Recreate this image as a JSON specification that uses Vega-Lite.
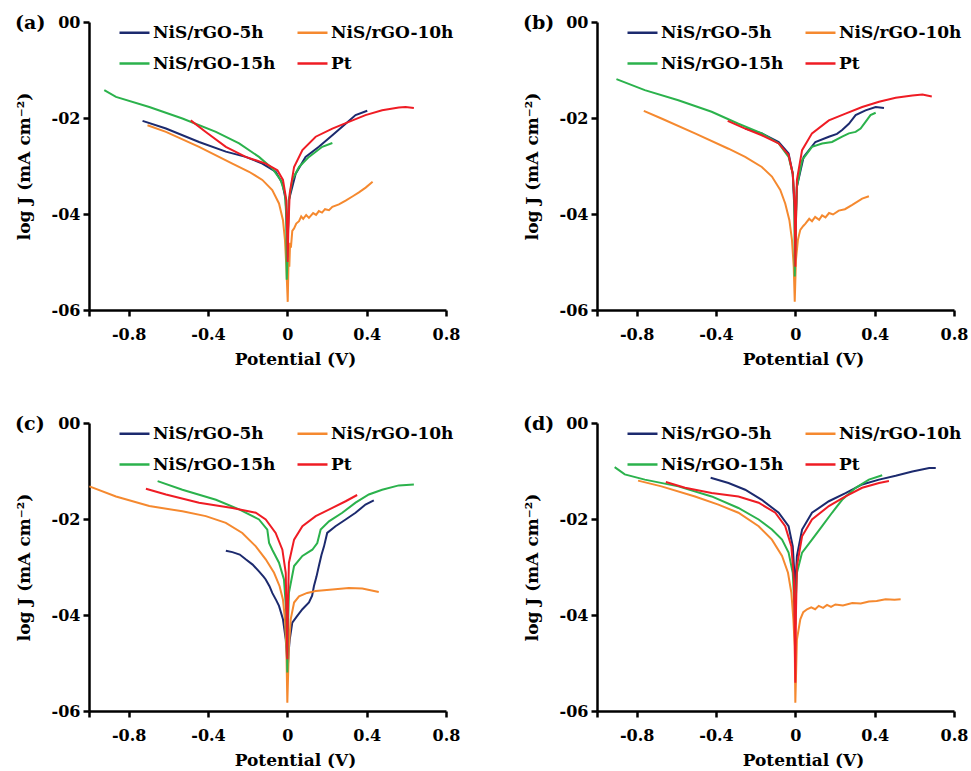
{
"$schema":"https://vega.github.io/schema/vega-lite/v6.json",
"background":"white",
"padding":{"left":15,"top":14,"right":0,"bottom":0},
"config":{
 "view":{"stroke":null},
 "font":"DejaVu Serif",
 "axis":{"domainColor":"black","domainWidth":2.5,"tickColor":"black","tickWidth":2.5,"tickSize":6,"grid":false,"labelFont":"DejaVu Serif","labelFontWeight":"bold","labelFontSize":16,"labelColor":"black","titleFont":"DejaVu Serif","titleFontWeight":"bold","titleFontSize":17,"titleColor":"black","labelFlush":false,"labelOverlap":false},
 "legend":{"title":null,"orient":"none","legendX":29,"legendY":-6,"columns":2,"direction":"horizontal","symbolType":"stroke","symbolSize":900,"symbolStrokeWidth":2.5,"labelFont":"DejaVu Serif","labelFontWeight":"bold","labelFontSize":17,"labelColor":"black","labelOffset":2,"rowPadding":6,"columnPadding":16,"padding":0,"labelLimit":200},
 "title":{"font":"DejaVu Serif","fontWeight":"bold","fontSize":19,"anchor":"start","frame":"bounds","color":"black","offset":-19,"baseline":"middle"}
},
"data":{"values":[
{"p":"a","s":"NiS/rGO-5h","x":-0.73,"y":-2.06},{"p":"a","s":"NiS/rGO-5h","x":-0.612,"y":-2.22},{"p":"a","s":"NiS/rGO-5h","x":-0.445,"y":-2.5},{"p":"a","s":"NiS/rGO-5h","x":-0.31,"y":-2.7},{"p":"a","s":"NiS/rGO-5h","x":-0.21,"y":-2.81},{"p":"a","s":"NiS/rGO-5h","x":-0.126,"y":-2.95},{"p":"a","s":"NiS/rGO-5h","x":-0.059,"y":-3.12},{"p":"a","s":"NiS/rGO-5h","x":-0.025,"y":-3.36},{"p":"a","s":"NiS/rGO-5h","x":-0.008,"y":-3.71},{"p":"a","s":"NiS/rGO-5h","x":-0.002,"y":-4.4},{"p":"a","s":"NiS/rGO-5h","x":0.0,"y":-4.9},{"p":"a","s":"NiS/rGO-5h","x":0.003,"y":-4.4},{"p":"a","s":"NiS/rGO-5h","x":0.008,"y":-3.71},{"p":"a","s":"NiS/rGO-5h","x":0.042,"y":-3.16},{"p":"a","s":"NiS/rGO-5h","x":0.092,"y":-2.81},{"p":"a","s":"NiS/rGO-5h","x":0.159,"y":-2.6},{"p":"a","s":"NiS/rGO-5h","x":0.227,"y":-2.36},{"p":"a","s":"NiS/rGO-5h","x":0.294,"y":-2.12},{"p":"a","s":"NiS/rGO-5h","x":0.344,"y":-1.94},{"p":"a","s":"NiS/rGO-5h","x":0.403,"y":-1.85},
{"p":"a","s":"NiS/rGO-10h","x":-0.705,"y":-2.15},{"p":"a","s":"NiS/rGO-10h","x":-0.612,"y":-2.29},{"p":"a","s":"NiS/rGO-10h","x":-0.445,"y":-2.6},{"p":"a","s":"NiS/rGO-10h","x":-0.277,"y":-2.95},{"p":"a","s":"NiS/rGO-10h","x":-0.193,"y":-3.12},{"p":"a","s":"NiS/rGO-10h","x":-0.126,"y":-3.29},{"p":"a","s":"NiS/rGO-10h","x":-0.076,"y":-3.5},{"p":"a","s":"NiS/rGO-10h","x":-0.042,"y":-3.78},{"p":"a","s":"NiS/rGO-10h","x":-0.022,"y":-4.13},{"p":"a","s":"NiS/rGO-10h","x":-0.012,"y":-4.54},{"p":"a","s":"NiS/rGO-10h","x":-0.005,"y":-5.1},{"p":"a","s":"NiS/rGO-10h","x":0.002,"y":-5.83},{"p":"a","s":"NiS/rGO-10h","x":0.006,"y":-5.0},{"p":"a","s":"NiS/rGO-10h","x":0.01,"y":-5.1},{"p":"a","s":"NiS/rGO-10h","x":0.014,"y":-4.6},{"p":"a","s":"NiS/rGO-10h","x":0.018,"y":-4.7},{"p":"a","s":"NiS/rGO-10h","x":0.025,"y":-4.35},{"p":"a","s":"NiS/rGO-10h","x":0.034,"y":-4.3},{"p":"a","s":"NiS/rGO-10h","x":0.045,"y":-4.2},{"p":"a","s":"NiS/rGO-10h","x":0.059,"y":-4.15},{"p":"a","s":"NiS/rGO-10h","x":0.07,"y":-4.05},{"p":"a","s":"NiS/rGO-10h","x":0.08,"y":-4.1},{"p":"a","s":"NiS/rGO-10h","x":0.095,"y":-4.02},{"p":"a","s":"NiS/rGO-10h","x":0.109,"y":-4.08},{"p":"a","s":"NiS/rGO-10h","x":0.13,"y":-3.98},{"p":"a","s":"NiS/rGO-10h","x":0.145,"y":-4.02},{"p":"a","s":"NiS/rGO-10h","x":0.159,"y":-3.94},{"p":"a","s":"NiS/rGO-10h","x":0.175,"y":-3.97},{"p":"a","s":"NiS/rGO-10h","x":0.19,"y":-3.9},{"p":"a","s":"NiS/rGO-10h","x":0.21,"y":-3.92},{"p":"a","s":"NiS/rGO-10h","x":0.227,"y":-3.85},{"p":"a","s":"NiS/rGO-10h","x":0.26,"y":-3.8},{"p":"a","s":"NiS/rGO-10h","x":0.294,"y":-3.72},{"p":"a","s":"NiS/rGO-10h","x":0.33,"y":-3.63},{"p":"a","s":"NiS/rGO-10h","x":0.361,"y":-3.55},{"p":"a","s":"NiS/rGO-10h","x":0.395,"y":-3.45},{"p":"a","s":"NiS/rGO-10h","x":0.43,"y":-3.33},
{"p":"a","s":"NiS/rGO-15h","x":-0.923,"y":-1.42},{"p":"a","s":"NiS/rGO-15h","x":-0.864,"y":-1.56},{"p":"a","s":"NiS/rGO-15h","x":-0.696,"y":-1.77},{"p":"a","s":"NiS/rGO-15h","x":-0.529,"y":-2.01},{"p":"a","s":"NiS/rGO-15h","x":-0.36,"y":-2.29},{"p":"a","s":"NiS/rGO-15h","x":-0.243,"y":-2.53},{"p":"a","s":"NiS/rGO-15h","x":-0.143,"y":-2.81},{"p":"a","s":"NiS/rGO-15h","x":-0.076,"y":-3.05},{"p":"a","s":"NiS/rGO-15h","x":-0.034,"y":-3.29},{"p":"a","s":"NiS/rGO-15h","x":-0.012,"y":-3.57},{"p":"a","s":"NiS/rGO-15h","x":-0.005,"y":-4.06},{"p":"a","s":"NiS/rGO-15h","x":-0.004,"y":-5.03},{"p":"a","s":"NiS/rGO-15h","x":-0.003,"y":-5.37},{"p":"a","s":"NiS/rGO-15h","x":0.0,"y":-5.03},{"p":"a","s":"NiS/rGO-15h","x":0.004,"y":-4.3},{"p":"a","s":"NiS/rGO-15h","x":0.008,"y":-3.71},{"p":"a","s":"NiS/rGO-15h","x":0.025,"y":-3.29},{"p":"a","s":"NiS/rGO-15h","x":0.059,"y":-3.02},{"p":"a","s":"NiS/rGO-15h","x":0.109,"y":-2.81},{"p":"a","s":"NiS/rGO-15h","x":0.176,"y":-2.6},{"p":"a","s":"NiS/rGO-15h","x":0.227,"y":-2.52},
{"p":"a","s":"Pt","x":-0.487,"y":-2.05},{"p":"a","s":"Pt","x":-0.411,"y":-2.29},{"p":"a","s":"Pt","x":-0.31,"y":-2.6},{"p":"a","s":"Pt","x":-0.21,"y":-2.81},{"p":"a","s":"Pt","x":-0.109,"y":-2.95},{"p":"a","s":"Pt","x":-0.05,"y":-3.09},{"p":"a","s":"Pt","x":-0.022,"y":-3.29},{"p":"a","s":"Pt","x":-0.005,"y":-3.71},{"p":"a","s":"Pt","x":0.0,"y":-4.54},{"p":"a","s":"Pt","x":0.002,"y":-5.0},{"p":"a","s":"Pt","x":0.005,"y":-4.3},{"p":"a","s":"Pt","x":0.012,"y":-3.57},{"p":"a","s":"Pt","x":0.034,"y":-3.02},{"p":"a","s":"Pt","x":0.076,"y":-2.67},{"p":"a","s":"Pt","x":0.143,"y":-2.39},{"p":"a","s":"Pt","x":0.227,"y":-2.22},{"p":"a","s":"Pt","x":0.31,"y":-2.08},{"p":"a","s":"Pt","x":0.394,"y":-1.94},{"p":"a","s":"Pt","x":0.478,"y":-1.84},{"p":"a","s":"Pt","x":0.562,"y":-1.78},{"p":"a","s":"Pt","x":0.596,"y":-1.77},{"p":"a","s":"Pt","x":0.638,"y":-1.79},
{"p":"b","s":"NiS/rGO-5h","x":-0.253,"y":-2.22},{"p":"b","s":"NiS/rGO-5h","x":-0.169,"y":-2.32},{"p":"b","s":"NiS/rGO-5h","x":-0.084,"y":-2.5},{"p":"b","s":"NiS/rGO-5h","x":-0.034,"y":-2.74},{"p":"b","s":"NiS/rGO-5h","x":-0.013,"y":-3.16},{"p":"b","s":"NiS/rGO-5h","x":-0.003,"y":-4.06},{"p":"b","s":"NiS/rGO-5h","x":0.0,"y":-4.8},{"p":"b","s":"NiS/rGO-5h","x":0.003,"y":-4.0},{"p":"b","s":"NiS/rGO-5h","x":0.008,"y":-3.43},{"p":"b","s":"NiS/rGO-5h","x":0.042,"y":-2.81},{"p":"b","s":"NiS/rGO-5h","x":0.101,"y":-2.5},{"p":"b","s":"NiS/rGO-5h","x":0.169,"y":-2.39},{"p":"b","s":"NiS/rGO-5h","x":0.21,"y":-2.33},{"p":"b","s":"NiS/rGO-5h","x":0.236,"y":-2.25},{"p":"b","s":"NiS/rGO-5h","x":0.27,"y":-2.12},{"p":"b","s":"NiS/rGO-5h","x":0.304,"y":-1.94},{"p":"b","s":"NiS/rGO-5h","x":0.354,"y":-1.84},{"p":"b","s":"NiS/rGO-5h","x":0.405,"y":-1.77},{"p":"b","s":"NiS/rGO-5h","x":0.447,"y":-1.79},
{"p":"b","s":"NiS/rGO-10h","x":-0.764,"y":-1.85},{"p":"b","s":"NiS/rGO-10h","x":-0.675,"y":-2.01},{"p":"b","s":"NiS/rGO-10h","x":-0.506,"y":-2.32},{"p":"b","s":"NiS/rGO-10h","x":-0.337,"y":-2.64},{"p":"b","s":"NiS/rGO-10h","x":-0.253,"y":-2.81},{"p":"b","s":"NiS/rGO-10h","x":-0.169,"y":-3.02},{"p":"b","s":"NiS/rGO-10h","x":-0.118,"y":-3.22},{"p":"b","s":"NiS/rGO-10h","x":-0.076,"y":-3.5},{"p":"b","s":"NiS/rGO-10h","x":-0.051,"y":-3.78},{"p":"b","s":"NiS/rGO-10h","x":-0.03,"y":-4.13},{"p":"b","s":"NiS/rGO-10h","x":-0.017,"y":-4.54},{"p":"b","s":"NiS/rGO-10h","x":-0.008,"y":-5.1},{"p":"b","s":"NiS/rGO-10h","x":-0.003,"y":-5.83},{"p":"b","s":"NiS/rGO-10h","x":0.003,"y":-4.96},{"p":"b","s":"NiS/rGO-10h","x":0.008,"y":-4.75},{"p":"b","s":"NiS/rGO-10h","x":0.013,"y":-4.54},{"p":"b","s":"NiS/rGO-10h","x":0.018,"y":-4.45},{"p":"b","s":"NiS/rGO-10h","x":0.025,"y":-4.33},{"p":"b","s":"NiS/rGO-10h","x":0.04,"y":-4.25},{"p":"b","s":"NiS/rGO-10h","x":0.051,"y":-4.2},{"p":"b","s":"NiS/rGO-10h","x":0.07,"y":-4.1},{"p":"b","s":"NiS/rGO-10h","x":0.084,"y":-4.15},{"p":"b","s":"NiS/rGO-10h","x":0.1,"y":-4.06},{"p":"b","s":"NiS/rGO-10h","x":0.12,"y":-4.12},{"p":"b","s":"NiS/rGO-10h","x":0.135,"y":-4.03},{"p":"b","s":"NiS/rGO-10h","x":0.152,"y":-4.07},{"p":"b","s":"NiS/rGO-10h","x":0.17,"y":-3.98},{"p":"b","s":"NiS/rGO-10h","x":0.19,"y":-4.01},{"p":"b","s":"NiS/rGO-10h","x":0.219,"y":-3.93},{"p":"b","s":"NiS/rGO-10h","x":0.25,"y":-3.9},{"p":"b","s":"NiS/rGO-10h","x":0.287,"y":-3.81},{"p":"b","s":"NiS/rGO-10h","x":0.337,"y":-3.68},{"p":"b","s":"NiS/rGO-10h","x":0.371,"y":-3.63},
{"p":"b","s":"NiS/rGO-15h","x":-0.902,"y":-1.19},{"p":"b","s":"NiS/rGO-15h","x":-0.759,"y":-1.42},{"p":"b","s":"NiS/rGO-15h","x":-0.59,"y":-1.63},{"p":"b","s":"NiS/rGO-15h","x":-0.422,"y":-1.87},{"p":"b","s":"NiS/rGO-15h","x":-0.287,"y":-2.12},{"p":"b","s":"NiS/rGO-15h","x":-0.169,"y":-2.32},{"p":"b","s":"NiS/rGO-15h","x":-0.084,"y":-2.53},{"p":"b","s":"NiS/rGO-15h","x":-0.034,"y":-2.81},{"p":"b","s":"NiS/rGO-15h","x":-0.013,"y":-3.16},{"p":"b","s":"NiS/rGO-15h","x":-0.005,"y":-3.71},{"p":"b","s":"NiS/rGO-15h","x":-0.003,"y":-5.3},{"p":"b","s":"NiS/rGO-15h","x":0.002,"y":-4.3},{"p":"b","s":"NiS/rGO-15h","x":0.008,"y":-3.43},{"p":"b","s":"NiS/rGO-15h","x":0.034,"y":-2.88},{"p":"b","s":"NiS/rGO-15h","x":0.084,"y":-2.6},{"p":"b","s":"NiS/rGO-15h","x":0.135,"y":-2.53},{"p":"b","s":"NiS/rGO-15h","x":0.185,"y":-2.5},{"p":"b","s":"NiS/rGO-15h","x":0.236,"y":-2.39},{"p":"b","s":"NiS/rGO-15h","x":0.27,"y":-2.32},{"p":"b","s":"NiS/rGO-15h","x":0.304,"y":-2.29},{"p":"b","s":"NiS/rGO-15h","x":0.329,"y":-2.22},{"p":"b","s":"NiS/rGO-15h","x":0.354,"y":-2.08},{"p":"b","s":"NiS/rGO-15h","x":0.379,"y":-1.94},{"p":"b","s":"NiS/rGO-15h","x":0.405,"y":-1.89},
{"p":"b","s":"Pt","x":-0.341,"y":-2.06},{"p":"b","s":"Pt","x":-0.253,"y":-2.22},{"p":"b","s":"Pt","x":-0.169,"y":-2.36},{"p":"b","s":"Pt","x":-0.084,"y":-2.53},{"p":"b","s":"Pt","x":-0.034,"y":-2.77},{"p":"b","s":"Pt","x":-0.013,"y":-3.16},{"p":"b","s":"Pt","x":-0.003,"y":-3.85},{"p":"b","s":"Pt","x":0.0,"y":-5.1},{"p":"b","s":"Pt","x":0.003,"y":-4.2},{"p":"b","s":"Pt","x":0.008,"y":-3.29},{"p":"b","s":"Pt","x":0.034,"y":-2.67},{"p":"b","s":"Pt","x":0.084,"y":-2.32},{"p":"b","s":"Pt","x":0.169,"y":-2.05},{"p":"b","s":"Pt","x":0.253,"y":-1.91},{"p":"b","s":"Pt","x":0.337,"y":-1.77},{"p":"b","s":"Pt","x":0.422,"y":-1.66},{"p":"b","s":"Pt","x":0.506,"y":-1.58},{"p":"b","s":"Pt","x":0.59,"y":-1.53},{"p":"b","s":"Pt","x":0.641,"y":-1.51},{"p":"b","s":"Pt","x":0.688,"y":-1.55},
{"p":"c","s":"NiS/rGO-5h","x":-0.31,"y":-2.66},{"p":"c","s":"NiS/rGO-5h","x":-0.277,"y":-2.69},{"p":"c","s":"NiS/rGO-5h","x":-0.24,"y":-2.74},{"p":"c","s":"NiS/rGO-5h","x":-0.21,"y":-2.84},{"p":"c","s":"NiS/rGO-5h","x":-0.175,"y":-2.95},{"p":"c","s":"NiS/rGO-5h","x":-0.143,"y":-3.09},{"p":"c","s":"NiS/rGO-5h","x":-0.12,"y":-3.2},{"p":"c","s":"NiS/rGO-5h","x":-0.109,"y":-3.26},{"p":"c","s":"NiS/rGO-5h","x":-0.09,"y":-3.4},{"p":"c","s":"NiS/rGO-5h","x":-0.076,"y":-3.54},{"p":"c","s":"NiS/rGO-5h","x":-0.055,"y":-3.7},{"p":"c","s":"NiS/rGO-5h","x":-0.042,"y":-3.81},{"p":"c","s":"NiS/rGO-5h","x":-0.022,"y":-4.09},{"p":"c","s":"NiS/rGO-5h","x":-0.008,"y":-4.51},{"p":"c","s":"NiS/rGO-5h","x":0.002,"y":-5.13},{"p":"c","s":"NiS/rGO-5h","x":0.006,"y":-4.8},{"p":"c","s":"NiS/rGO-5h","x":0.012,"y":-4.51},{"p":"c","s":"NiS/rGO-5h","x":0.025,"y":-4.16},{"p":"c","s":"NiS/rGO-5h","x":0.05,"y":-4.02},{"p":"c","s":"NiS/rGO-5h","x":0.076,"y":-3.88},{"p":"c","s":"NiS/rGO-5h","x":0.109,"y":-3.74},{"p":"c","s":"NiS/rGO-5h","x":0.125,"y":-3.6},{"p":"c","s":"NiS/rGO-5h","x":0.134,"y":-3.4},{"p":"c","s":"NiS/rGO-5h","x":0.147,"y":-3.2},{"p":"c","s":"NiS/rGO-5h","x":0.159,"y":-2.98},{"p":"c","s":"NiS/rGO-5h","x":0.172,"y":-2.75},{"p":"c","s":"NiS/rGO-5h","x":0.185,"y":-2.57},{"p":"c","s":"NiS/rGO-5h","x":0.201,"y":-2.29},{"p":"c","s":"NiS/rGO-5h","x":0.243,"y":-2.15},{"p":"c","s":"NiS/rGO-5h","x":0.294,"y":-2.01},{"p":"c","s":"NiS/rGO-5h","x":0.344,"y":-1.87},{"p":"c","s":"NiS/rGO-5h","x":0.394,"y":-1.7},{"p":"c","s":"NiS/rGO-5h","x":0.436,"y":-1.61},
{"p":"c","s":"NiS/rGO-10h","x":-0.998,"y":-1.32},{"p":"c","s":"NiS/rGO-10h","x":-0.864,"y":-1.53},{"p":"c","s":"NiS/rGO-10h","x":-0.696,"y":-1.73},{"p":"c","s":"NiS/rGO-10h","x":-0.529,"y":-1.84},{"p":"c","s":"NiS/rGO-10h","x":-0.411,"y":-1.94},{"p":"c","s":"NiS/rGO-10h","x":-0.31,"y":-2.08},{"p":"c","s":"NiS/rGO-10h","x":-0.227,"y":-2.29},{"p":"c","s":"NiS/rGO-10h","x":-0.159,"y":-2.57},{"p":"c","s":"NiS/rGO-10h","x":-0.109,"y":-2.84},{"p":"c","s":"NiS/rGO-10h","x":-0.067,"y":-3.12},{"p":"c","s":"NiS/rGO-10h","x":-0.039,"y":-3.4},{"p":"c","s":"NiS/rGO-10h","x":-0.022,"y":-3.68},{"p":"c","s":"NiS/rGO-10h","x":-0.012,"y":-4.09},{"p":"c","s":"NiS/rGO-10h","x":-0.005,"y":-4.65},{"p":"c","s":"NiS/rGO-10h","x":0.0,"y":-5.83},{"p":"c","s":"NiS/rGO-10h","x":0.008,"y":-4.65},{"p":"c","s":"NiS/rGO-10h","x":0.017,"y":-4.09},{"p":"c","s":"NiS/rGO-10h","x":0.034,"y":-3.74},{"p":"c","s":"NiS/rGO-10h","x":0.059,"y":-3.61},{"p":"c","s":"NiS/rGO-10h","x":0.1,"y":-3.54},{"p":"c","s":"NiS/rGO-10h","x":0.143,"y":-3.5},{"p":"c","s":"NiS/rGO-10h","x":0.227,"y":-3.47},{"p":"c","s":"NiS/rGO-10h","x":0.31,"y":-3.44},{"p":"c","s":"NiS/rGO-10h","x":0.378,"y":-3.45},{"p":"c","s":"NiS/rGO-10h","x":0.461,"y":-3.52},
{"p":"c","s":"NiS/rGO-15h","x":-0.654,"y":-1.21},{"p":"c","s":"NiS/rGO-15h","x":-0.529,"y":-1.39},{"p":"c","s":"NiS/rGO-15h","x":-0.36,"y":-1.6},{"p":"c","s":"NiS/rGO-15h","x":-0.243,"y":-1.8},{"p":"c","s":"NiS/rGO-15h","x":-0.143,"y":-2.01},{"p":"c","s":"NiS/rGO-15h","x":-0.101,"y":-2.22},{"p":"c","s":"NiS/rGO-15h","x":-0.092,"y":-2.5},{"p":"c","s":"NiS/rGO-15h","x":-0.076,"y":-2.64},{"p":"c","s":"NiS/rGO-15h","x":-0.042,"y":-2.91},{"p":"c","s":"NiS/rGO-15h","x":-0.017,"y":-3.26},{"p":"c","s":"NiS/rGO-15h","x":-0.005,"y":-3.95},{"p":"c","s":"NiS/rGO-15h","x":0.0,"y":-5.2},{"p":"c","s":"NiS/rGO-15h","x":0.003,"y":-4.3},{"p":"c","s":"NiS/rGO-15h","x":0.008,"y":-3.54},{"p":"c","s":"NiS/rGO-15h","x":0.034,"y":-2.98},{"p":"c","s":"NiS/rGO-15h","x":0.076,"y":-2.77},{"p":"c","s":"NiS/rGO-15h","x":0.126,"y":-2.64},{"p":"c","s":"NiS/rGO-15h","x":0.151,"y":-2.5},{"p":"c","s":"NiS/rGO-15h","x":0.168,"y":-2.22},{"p":"c","s":"NiS/rGO-15h","x":0.21,"y":-2.05},{"p":"c","s":"NiS/rGO-15h","x":0.277,"y":-1.87},{"p":"c","s":"NiS/rGO-15h","x":0.344,"y":-1.66},{"p":"c","s":"NiS/rGO-15h","x":0.411,"y":-1.49},{"p":"c","s":"NiS/rGO-15h","x":0.478,"y":-1.39},{"p":"c","s":"NiS/rGO-15h","x":0.562,"y":-1.3},{"p":"c","s":"NiS/rGO-15h","x":0.638,"y":-1.28},
{"p":"c","s":"Pt","x":-0.713,"y":-1.37},{"p":"c","s":"Pt","x":-0.612,"y":-1.49},{"p":"c","s":"Pt","x":-0.445,"y":-1.66},{"p":"c","s":"Pt","x":-0.277,"y":-1.77},{"p":"c","s":"Pt","x":-0.159,"y":-1.87},{"p":"c","s":"Pt","x":-0.109,"y":-2.01},{"p":"c","s":"Pt","x":-0.059,"y":-2.29},{"p":"c","s":"Pt","x":-0.025,"y":-2.64},{"p":"c","s":"Pt","x":-0.008,"y":-3.12},{"p":"c","s":"Pt","x":0.0,"y":-4.92},{"p":"c","s":"Pt","x":0.003,"y":-3.8},{"p":"c","s":"Pt","x":0.008,"y":-2.91},{"p":"c","s":"Pt","x":0.034,"y":-2.43},{"p":"c","s":"Pt","x":0.076,"y":-2.15},{"p":"c","s":"Pt","x":0.143,"y":-1.94},{"p":"c","s":"Pt","x":0.227,"y":-1.77},{"p":"c","s":"Pt","x":0.294,"y":-1.63},{"p":"c","s":"Pt","x":0.352,"y":-1.5},
{"p":"d","s":"NiS/rGO-5h","x":-0.427,"y":-1.14},{"p":"d","s":"NiS/rGO-5h","x":-0.337,"y":-1.25},{"p":"d","s":"NiS/rGO-5h","x":-0.253,"y":-1.39},{"p":"d","s":"NiS/rGO-5h","x":-0.169,"y":-1.6},{"p":"d","s":"NiS/rGO-5h","x":-0.084,"y":-1.87},{"p":"d","s":"NiS/rGO-5h","x":-0.034,"y":-2.15},{"p":"d","s":"NiS/rGO-5h","x":-0.013,"y":-2.57},{"p":"d","s":"NiS/rGO-5h","x":-0.003,"y":-3.26},{"p":"d","s":"NiS/rGO-5h","x":0.0,"y":-3.6},{"p":"d","s":"NiS/rGO-5h","x":0.003,"y":-3.2},{"p":"d","s":"NiS/rGO-5h","x":0.008,"y":-2.77},{"p":"d","s":"NiS/rGO-5h","x":0.034,"y":-2.22},{"p":"d","s":"NiS/rGO-5h","x":0.084,"y":-1.87},{"p":"d","s":"NiS/rGO-5h","x":0.169,"y":-1.63},{"p":"d","s":"NiS/rGO-5h","x":0.253,"y":-1.46},{"p":"d","s":"NiS/rGO-5h","x":0.337,"y":-1.28},{"p":"d","s":"NiS/rGO-5h","x":0.422,"y":-1.18},{"p":"d","s":"NiS/rGO-5h","x":0.506,"y":-1.1},{"p":"d","s":"NiS/rGO-5h","x":0.59,"y":-1.01},{"p":"d","s":"NiS/rGO-5h","x":0.675,"y":-0.94},{"p":"d","s":"NiS/rGO-5h","x":0.708,"y":-0.94},
{"p":"d","s":"NiS/rGO-10h","x":-0.793,"y":-1.2},{"p":"d","s":"NiS/rGO-10h","x":-0.675,"y":-1.32},{"p":"d","s":"NiS/rGO-10h","x":-0.506,"y":-1.53},{"p":"d","s":"NiS/rGO-10h","x":-0.388,"y":-1.7},{"p":"d","s":"NiS/rGO-10h","x":-0.287,"y":-1.87},{"p":"d","s":"NiS/rGO-10h","x":-0.185,"y":-2.15},{"p":"d","s":"NiS/rGO-10h","x":-0.118,"y":-2.43},{"p":"d","s":"NiS/rGO-10h","x":-0.067,"y":-2.77},{"p":"d","s":"NiS/rGO-10h","x":-0.037,"y":-3.12},{"p":"d","s":"NiS/rGO-10h","x":-0.02,"y":-3.54},{"p":"d","s":"NiS/rGO-10h","x":-0.01,"y":-4.09},{"p":"d","s":"NiS/rGO-10h","x":-0.003,"y":-4.65},{"p":"d","s":"NiS/rGO-10h","x":0.0,"y":-5.83},{"p":"d","s":"NiS/rGO-10h","x":0.008,"y":-4.51},{"p":"d","s":"NiS/rGO-10h","x":0.025,"y":-4.09},{"p":"d","s":"NiS/rGO-10h","x":0.04,"y":-3.94},{"p":"d","s":"NiS/rGO-10h","x":0.059,"y":-3.88},{"p":"d","s":"NiS/rGO-10h","x":0.08,"y":-3.84},{"p":"d","s":"NiS/rGO-10h","x":0.1,"y":-3.88},{"p":"d","s":"NiS/rGO-10h","x":0.118,"y":-3.81},{"p":"d","s":"NiS/rGO-10h","x":0.14,"y":-3.85},{"p":"d","s":"NiS/rGO-10h","x":0.16,"y":-3.79},{"p":"d","s":"NiS/rGO-10h","x":0.18,"y":-3.83},{"p":"d","s":"NiS/rGO-10h","x":0.202,"y":-3.78},{"p":"d","s":"NiS/rGO-10h","x":0.24,"y":-3.8},{"p":"d","s":"NiS/rGO-10h","x":0.287,"y":-3.75},{"p":"d","s":"NiS/rGO-10h","x":0.33,"y":-3.76},{"p":"d","s":"NiS/rGO-10h","x":0.371,"y":-3.72},{"p":"d","s":"NiS/rGO-10h","x":0.41,"y":-3.71},{"p":"d","s":"NiS/rGO-10h","x":0.455,"y":-3.67},{"p":"d","s":"NiS/rGO-10h","x":0.5,"y":-3.68},{"p":"d","s":"NiS/rGO-10h","x":0.531,"y":-3.67},
{"p":"d","s":"NiS/rGO-15h","x":-0.911,"y":-0.92},{"p":"d","s":"NiS/rGO-15h","x":-0.86,"y":-1.07},{"p":"d","s":"NiS/rGO-15h","x":-0.759,"y":-1.18},{"p":"d","s":"NiS/rGO-15h","x":-0.59,"y":-1.32},{"p":"d","s":"NiS/rGO-15h","x":-0.422,"y":-1.53},{"p":"d","s":"NiS/rGO-15h","x":-0.287,"y":-1.77},{"p":"d","s":"NiS/rGO-15h","x":-0.185,"y":-2.01},{"p":"d","s":"NiS/rGO-15h","x":-0.118,"y":-2.22},{"p":"d","s":"NiS/rGO-15h","x":-0.067,"y":-2.43},{"p":"d","s":"NiS/rGO-15h","x":-0.034,"y":-2.7},{"p":"d","s":"NiS/rGO-15h","x":-0.013,"y":-3.12},{"p":"d","s":"NiS/rGO-15h","x":-0.003,"y":-3.95},{"p":"d","s":"NiS/rGO-15h","x":0.0,"y":-4.2},{"p":"d","s":"NiS/rGO-15h","x":0.003,"y":-3.6},{"p":"d","s":"NiS/rGO-15h","x":0.008,"y":-3.12},{"p":"d","s":"NiS/rGO-15h","x":0.034,"y":-2.7},{"p":"d","s":"NiS/rGO-15h","x":0.084,"y":-2.43},{"p":"d","s":"NiS/rGO-15h","x":0.135,"y":-2.15},{"p":"d","s":"NiS/rGO-15h","x":0.185,"y":-1.87},{"p":"d","s":"NiS/rGO-15h","x":0.236,"y":-1.6},{"p":"d","s":"NiS/rGO-15h","x":0.304,"y":-1.35},{"p":"d","s":"NiS/rGO-15h","x":0.371,"y":-1.18},{"p":"d","s":"NiS/rGO-15h","x":0.438,"y":-1.09},
{"p":"d","s":"Pt","x":-0.653,"y":-1.23},{"p":"d","s":"Pt","x":-0.556,"y":-1.35},{"p":"d","s":"Pt","x":-0.422,"y":-1.46},{"p":"d","s":"Pt","x":-0.287,"y":-1.53},{"p":"d","s":"Pt","x":-0.185,"y":-1.66},{"p":"d","s":"Pt","x":-0.101,"y":-1.87},{"p":"d","s":"Pt","x":-0.051,"y":-2.15},{"p":"d","s":"Pt","x":-0.02,"y":-2.57},{"p":"d","s":"Pt","x":-0.007,"y":-3.26},{"p":"d","s":"Pt","x":0.0,"y":-5.41},{"p":"d","s":"Pt","x":0.003,"y":-4.0},{"p":"d","s":"Pt","x":0.008,"y":-2.98},{"p":"d","s":"Pt","x":0.034,"y":-2.36},{"p":"d","s":"Pt","x":0.084,"y":-2.01},{"p":"d","s":"Pt","x":0.169,"y":-1.73},{"p":"d","s":"Pt","x":0.253,"y":-1.53},{"p":"d","s":"Pt","x":0.337,"y":-1.35},{"p":"d","s":"Pt","x":0.422,"y":-1.25},{"p":"d","s":"Pt","x":0.472,"y":-1.21}
]},
"concat":[
  {"width":357,"height":288,"title":"(a)","transform":[{"filter":"datum.p === 'a'"}],"mark":{"type":"line","strokeWidth":2},
   "encoding":{"x":{"field":"x","type":"quantitative","scale":{"domain":[-1,0.8],"nice":false,"zero":false},"axis":{"title":"Potential (V)","values":[-1,-0.8,-0.4,0,0.4,0.8],"labelExpr":"datum.value === -1 ? '' : datum.value === 0 ? '0' : datum.value < 0 ? '-' + format(-datum.value, '.1f') : format(datum.value, '.1f')","labelPadding":10,"titlePadding":9,"titleX":206}},
    "y":{"field":"y","type":"quantitative","scale":{"domain":[-6,0],"nice":false,"zero":false},"axis":{"title":"log J (mA cm⁻²)","values":[0,-2,-4,-6],"labelExpr":"datum.value === 0 ? '00' : '-0' + format(-datum.value, 'd')","labelPadding":3,"titlePadding":18}},
    "color":{"field":"s","type":"nominal","sort":null,"scale":{"domain":["NiS/rGO-5h","NiS/rGO-10h","NiS/rGO-15h","Pt"],"range":["#1c2a6e","#f5892f","#2bb24c","#ef1c24"]}}}},
  {"width":357,"height":288,"title":"(b)","transform":[{"filter":"datum.p === 'b'"}],"mark":{"type":"line","strokeWidth":2},
   "encoding":{"x":{"field":"x","type":"quantitative","scale":{"domain":[-1,0.8],"nice":false,"zero":false},"axis":{"title":"Potential (V)","values":[-1,-0.8,-0.4,0,0.4,0.8],"labelExpr":"datum.value === -1 ? '' : datum.value === 0 ? '0' : datum.value < 0 ? '-' + format(-datum.value, '.1f') : format(datum.value, '.1f')","labelPadding":10,"titlePadding":9,"titleX":206}},
    "y":{"field":"y","type":"quantitative","scale":{"domain":[-6,0],"nice":false,"zero":false},"axis":{"title":"log J (mA cm⁻²)","values":[0,-2,-4,-6],"labelExpr":"datum.value === 0 ? '00' : '-0' + format(-datum.value, 'd')","labelPadding":3,"titlePadding":18}},
    "color":{"field":"s","type":"nominal","sort":null,"scale":{"domain":["NiS/rGO-5h","NiS/rGO-10h","NiS/rGO-15h","Pt"],"range":["#1c2a6e","#f5892f","#2bb24c","#ef1c24"]}}}},
  {"width":357,"height":288,"title":"(c)","transform":[{"filter":"datum.p === 'c'"}],"mark":{"type":"line","strokeWidth":2},
   "encoding":{"x":{"field":"x","type":"quantitative","scale":{"domain":[-1,0.8],"nice":false,"zero":false},"axis":{"title":"Potential (V)","values":[-1,-0.8,-0.4,0,0.4,0.8],"labelExpr":"datum.value === -1 ? '' : datum.value === 0 ? '0' : datum.value < 0 ? '-' + format(-datum.value, '.1f') : format(datum.value, '.1f')","labelPadding":10,"titlePadding":9,"titleX":206}},
    "y":{"field":"y","type":"quantitative","scale":{"domain":[-6,0],"nice":false,"zero":false},"axis":{"title":"log J (mA cm⁻²)","values":[0,-2,-4,-6],"labelExpr":"datum.value === 0 ? '00' : '-0' + format(-datum.value, 'd')","labelPadding":3,"titlePadding":18}},
    "color":{"field":"s","type":"nominal","sort":null,"scale":{"domain":["NiS/rGO-5h","NiS/rGO-10h","NiS/rGO-15h","Pt"],"range":["#1c2a6e","#f5892f","#2bb24c","#ef1c24"]}}}},
  {"width":357,"height":288,"title":"(d)","transform":[{"filter":"datum.p === 'd'"}],"mark":{"type":"line","strokeWidth":2},
   "encoding":{"x":{"field":"x","type":"quantitative","scale":{"domain":[-1,0.8],"nice":false,"zero":false},"axis":{"title":"Potential (V)","values":[-1,-0.8,-0.4,0,0.4,0.8],"labelExpr":"datum.value === -1 ? '' : datum.value === 0 ? '0' : datum.value < 0 ? '-' + format(-datum.value, '.1f') : format(datum.value, '.1f')","labelPadding":10,"titlePadding":9,"titleX":206}},
    "y":{"field":"y","type":"quantitative","scale":{"domain":[-6,0],"nice":false,"zero":false},"axis":{"title":"log J (mA cm⁻²)","values":[0,-2,-4,-6],"labelExpr":"datum.value === 0 ? '00' : '-0' + format(-datum.value, 'd')","labelPadding":3,"titlePadding":18}},
    "color":{"field":"s","type":"nominal","sort":null,"scale":{"domain":["NiS/rGO-5h","NiS/rGO-10h","NiS/rGO-15h","Pt"],"range":["#1c2a6e","#f5892f","#2bb24c","#ef1c24"]}}}}
],
"columns":2,
"spacing":{"row":113,"column":151},
"bounds":"flush",
"resolve":{"scale":{"color":"independent"},"legend":{"color":"independent"}}
}
